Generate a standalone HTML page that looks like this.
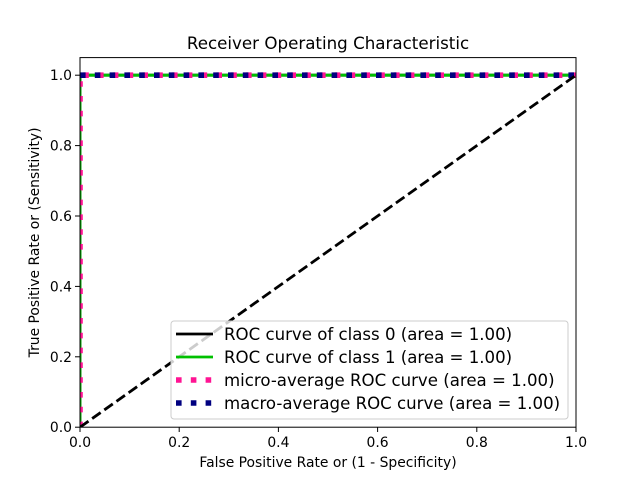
<!DOCTYPE html>
<html><head><meta charset="utf-8"><style>
body{margin:0;background:#fff}
svg{display:block;font-family:"DejaVu Sans","Liberation Sans",sans-serif}
</style></head><body>
<svg id="chart" width="640" height="480" viewBox="0 0 640 480" xmlns="http://www.w3.org/2000/svg">
<defs><clipPath id="clip"><rect x="80" y="57.6" width="496" height="369.6"/></clipPath></defs>
<rect width="640" height="480" fill="#fff"/>
<g id="marks" clip-path="url(#clip)"></g>
<rect x="80" y="57.6" width="496" height="369.6" fill="none" stroke="#000" stroke-width="1"/>
<g id="ticks" font-size="13.9"></g>
<text x="328" y="49" text-anchor="middle" font-size="16.7">Receiver Operating Characteristic</text>
<text x="328" y="467" text-anchor="middle" font-size="13.9">False Positive Rate or (1 - Specificity)</text>
<text transform="translate(39,242.4) rotate(-90)" text-anchor="middle" font-size="13.9">True Positive Rate or (Sensitivity)</text>
<g font-size="16.6">
<rect x="171" y="321" width="397" height="98" rx="3" fill="#fff" fill-opacity="0.8" stroke="#ccc"/>
<line x1="176" y1="334" x2="213" y2="334" stroke="#000" stroke-width="2.8"/>
<text x="224" y="340">ROC curve of class 0 (area = 1.00)</text>
<line x1="176" y1="357" x2="213" y2="357" stroke="#00c000" stroke-width="2.8"/>
<text x="224" y="363">ROC curve of class 1 (area = 1.00)</text>
<line x1="176" y1="380" x2="213" y2="380" stroke="deeppink" stroke-width="5.6" stroke-dasharray="5.6 9.2"/>
<text x="224" y="386">micro-average ROC curve (area = 1.00)</text>
<line x1="176" y1="403" x2="213" y2="403" stroke="navy" stroke-width="5.6" stroke-dasharray="5.6 9.2"/>
<text x="224" y="409">macro-average ROC curve (area = 1.00)</text>
</g>
</svg>
<script>
const xTicks=[0,0.2,0.4,0.6,0.8,1.0];
const yTicks=[0,0.2,0.4,0.6,0.8,1.0];
const class0X=[0,0,1], class0Y=[0,1,1];
const class1X=[0,0,1], class1Y=[0,1,1];
const microX=[0,0,1], microY=[0,1,1];
const macroX=[0,1], macroY=[1,1];
const diagX=[0,1], diagY=[0,1];
const NS="http://www.w3.org/2000/svg";
const sx=v=>80+v*496, sy=v=>427.2-v/1.05*369.6;
const marks=document.getElementById('marks'), ticks=document.getElementById('ticks');
function line(xs,ys,attrs,name){
  const p=document.createElementNS(NS,'polyline');
  p.setAttribute('points',xs.map((x,i)=>sx(x)+','+sy(ys[i])).join(' '));
  p.setAttribute('fill','none');
  for(const k in attrs)p.setAttribute(k,attrs[k]);
  
  
  marks.appendChild(p);
}
line(class0X,class0Y,{stroke:'#000','stroke-width':2.8},'class-0-roc-line');
line(class1X,class1Y,{stroke:'#00c000','stroke-width':2.8},'class-1-roc-line');
line(microX,microY,{stroke:'deeppink','stroke-width':5.6,'stroke-dasharray':'5.6 9.2'},'micro-average-line');
line(macroX,macroY,{stroke:'navy','stroke-width':5.6,'stroke-dasharray':'5.6 9.2'},'macro-average-line');
line(diagX,diagY,{stroke:'#000','stroke-width':2.8,'stroke-dasharray':'10.4 4.5'},'chance-diagonal');
xTicks.forEach(v=>{
  const l=document.createElementNS(NS,'line');
  l.setAttribute('x1',sx(v));l.setAttribute('x2',sx(v));l.setAttribute('y1',427.2);l.setAttribute('y2',432);l.setAttribute('stroke','#000');
  
  
  ticks.appendChild(l);
  const t=document.createElementNS(NS,'text');
  t.setAttribute('x',sx(v));t.setAttribute('y',447);t.setAttribute('text-anchor','middle');t.textContent=v.toFixed(1);
  
  
  ticks.appendChild(t);
});
yTicks.forEach(v=>{
  const l=document.createElementNS(NS,'line');
  l.setAttribute('x1',75);l.setAttribute('x2',80);l.setAttribute('y1',sy(v));l.setAttribute('y2',sy(v));l.setAttribute('stroke','#000');
  
  
  ticks.appendChild(l);
  const t=document.createElementNS(NS,'text');
  t.setAttribute('x',72);t.setAttribute('y',sy(v)+5);t.setAttribute('text-anchor','end');t.textContent=v.toFixed(1);
  
  
  ticks.appendChild(t);
});
</script>
</body></html>
